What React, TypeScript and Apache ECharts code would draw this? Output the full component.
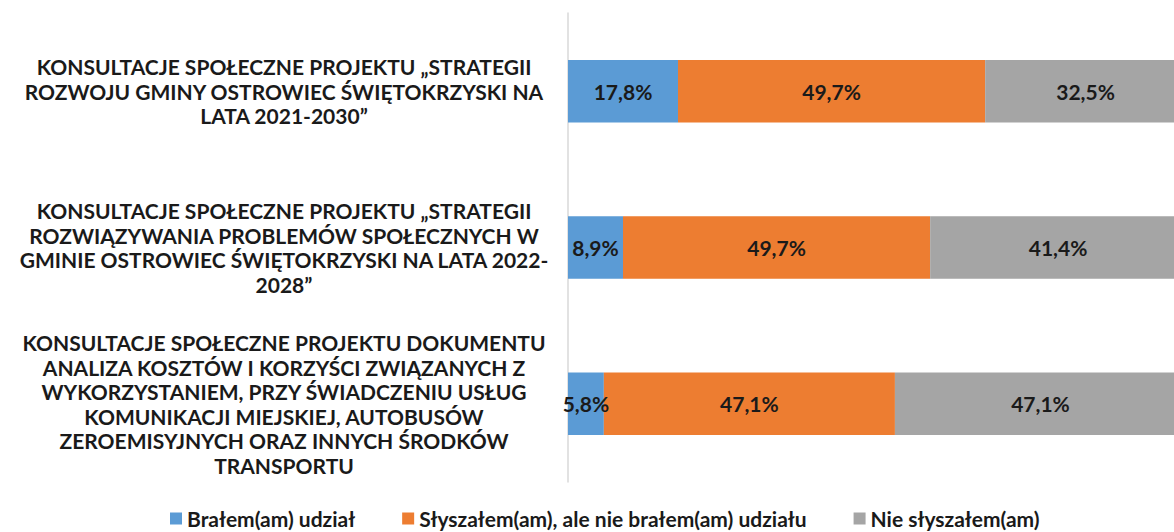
import React, { useEffect, useRef } from "react";
import * as echarts from "echarts";

const categories = [
  "KONSULTACJE SPOŁECZNE PROJEKTU „STRATEGII\nROZWOJU GMINY OSTROWIEC ŚWIĘTOKRZYSKI NA\nLATA 2021-2030”",
  "KONSULTACJE SPOŁECZNE PROJEKTU „STRATEGII\nROZWIĄZYWANIA PROBLEMÓW SPOŁECZNYCH W\nGMINIE OSTROWIEC ŚWIĘTOKRZYSKI NA LATA 2022-\n2028”",
  "KONSULTACJE SPOŁECZNE PROJEKTU DOKUMENTU\nANALIZA KOSZTÓW I KORZYŚCI ZWIĄZANYCH Z\nWYKORZYSTANIEM, PRZY ŚWIADCZENIU USŁUG\nKOMUNIKACJI MIEJSKIEJ, AUTOBUSÓW\nZEROEMISYJNYCH ORAZ INNYCH ŚRODKÓW\nTRANSPORTU",
];

const seriesNames = [
  "Brałem(am) udział",
  "Słyszałem(am), ale nie brałem(am) udziału",
  "Nie słyszałem(am)",
];

const tookPart = [17.8, 8.9, 5.8];
const heardNotTook = [49.7, 49.7, 47.1];
const notHeard = [32.5, 41.4, 47.1];

const colors = ["#5B9BD5", "#ED7D31", "#A5A5A5"];

export default function App() {
  const ref = useRef<HTMLDivElement>(null);
  useEffect(() => {
    if (!ref.current) return;
    const chart = echarts.init(ref.current, null, { renderer: "svg" });
    const values = [tookPart, heardNotTook, notHeard];
    chart.setOption({
      animation: false,
      textStyle: { fontFamily: "Lato" },
      grid: { left: 568, right: 0, top: 13, bottom: 50, containLabel: false },
      legend: {
        data: seriesNames,
        top: 508,
        left: 170,
        padding: 0,
        itemWidth: 12,
        itemHeight: 12,
        itemGap: 47,
        icon: "rect",
        textStyle: { fontFamily: "Lato", fontWeight: "bold", fontSize: 21, color: "#1a1a1a" },
      },
      xAxis: {
        type: "value",
        min: 0,
        max: 100,
        show: false,
        splitLine: { show: false },
      },
      yAxis: {
        type: "category",
        data: categories,
        inverse: true,
        axisLine: { show: true, lineStyle: { color: "#D9D9D9", width: 1.5 } },
        axisTick: { show: false },
        axisLabel: {
          margin: 284,
          align: "center",
          fontFamily: "Lato",
          fontWeight: "bold",
          fontSize: 21,
          lineHeight: 24.5,
          color: "#1a1a1a",
        },
      },
      series: seriesNames.map((name, i) => ({
        name,
        type: "bar",
        stack: "total",
        barWidth: "40%",
        data: values[i],
        itemStyle: { color: colors[i] },
        label: {
          show: true,
          position: "inside",
          formatter: (p: any) => p.value.toFixed(1).replace(".", ",") + "%",
          fontFamily: "Lato",
          fontWeight: "bold",
          fontSize: 21,
          color: "#1a1a1a",
        },
      })),
    });
    return () => chart.dispose();
  }, []);
  return (
    <div style={{ position: "fixed", left: 0, top: 0, width: 1174, height: 532, overflow: "hidden", background: "#fff" }}>
      <div ref={ref} style={{ width: 1186, height: 532 }} />
    </div>
  );
}
